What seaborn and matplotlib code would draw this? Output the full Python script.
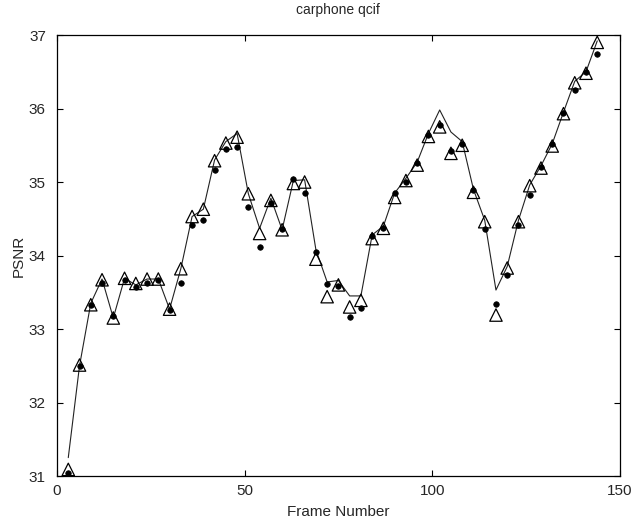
import matplotlib
matplotlib.use("Agg")
import matplotlib.pyplot as plt
import seaborn as sns
import pandas as pd

# frame numbers sampled every 3 frames
frames = list(range(3, 145, 3))

# PSNR, open-triangle series
psnr_tri = [31.09, 32.51, 33.33, 33.67, 33.15, 33.69, 33.62, 33.68, 33.68, 33.27,
            33.82, 34.53, 34.63, 35.29, 35.53, 35.61, 34.84, 34.30, 34.75, 34.35,
            34.98, 35.00, 33.95, 33.44, 33.60, 33.30, 33.39, 34.23, 34.37, 34.79,
            35.02, 35.23, 35.62, 35.75, 35.39, 35.50, 34.86, 34.46, 33.19, 33.83,
            34.46, 34.95, 35.19, 35.49, 35.93, 36.35, 36.48, 36.90]

# PSNR, filled-dot series
psnr_dot = [31.04, 32.50, 33.33, 33.62, 33.18, 33.67, 33.57, 33.62, 33.66, 33.26,
            33.63, 34.41, 34.48, 35.16, 35.45, 35.47, 34.66, 34.11, 34.72, 34.36,
            35.04, 34.85, 34.05, 33.61, 33.58, 33.17, 33.28, 34.26, 34.37, 34.85,
            35.00, 35.26, 35.64, 35.78, 35.42, 35.52, 34.89, 34.36, 33.34, 33.74,
            34.42, 34.82, 35.20, 35.52, 35.94, 36.25, 36.50, 36.74]

# PSNR, plain line series
psnr_line = [31.25, 32.50, 33.35, 33.68, 33.15, 33.69, 33.60, 33.68, 33.68, 33.27,
             33.82, 34.53, 34.63, 35.30, 35.55, 35.66, 34.84, 34.37, 34.78, 34.35,
             35.02, 35.03, 34.08, 33.64, 33.66, 33.45, 33.45, 34.28, 34.40, 34.85,
             35.05, 35.27, 35.66, 35.98, 35.68, 35.55, 34.90, 34.48, 33.53, 33.85,
             34.48, 34.96, 35.22, 35.52, 35.95, 36.37, 36.50, 36.92]

df = pd.DataFrame({"frame": frames, "tri": psnr_tri, "dot": psnr_dot, "line": psnr_line})

sns.set_style("ticks")
plt.rcParams["font.family"] = ["Liberation Sans", "DejaVu Sans"]
plt.rcParams["xtick.direction"] = "in"
plt.rcParams["ytick.direction"] = "in"

fig = plt.figure(figsize=(6.35, 5.24), dpi=100)
ax = fig.add_axes([0.0898, 0.0916, 0.8862, 0.8416])

sns.lineplot(data=df, x="frame", y="line", color="#222222", linewidth=0.8, ax=ax)
sns.scatterplot(data=df, x="frame", y="dot", marker="o", color="black",
                s=16, edgecolor="black", linewidth=0.5, ax=ax, zorder=3)
sns.scatterplot(data=df, x="frame", y="tri", marker="^", facecolor="none",
                edgecolor="black", s=80, linewidth=0.9, ax=ax, zorder=4)

ax.set_xlim(0, 150)
ax.set_ylim(31, 37)
ax.set_xticks([0, 50, 100, 150])
ax.set_yticks([31, 32, 33, 34, 35, 36, 37])
ax.tick_params(top=True, right=True, length=4, width=0.8, labelsize=11,
               color="black", pad=8)
ax.tick_params(axis="x", pad=6)
for s in ax.spines.values():
    s.set_linewidth(0.9)
    s.set_color("black")

ax.set_title("carphone qcif", fontsize=10, pad=15)
ax.set_xlabel("Frame Number", fontsize=11, labelpad=5)
ax.set_ylabel("PSNR", fontsize=11, labelpad=2)

fig.savefig("out.png", dpi=100)
